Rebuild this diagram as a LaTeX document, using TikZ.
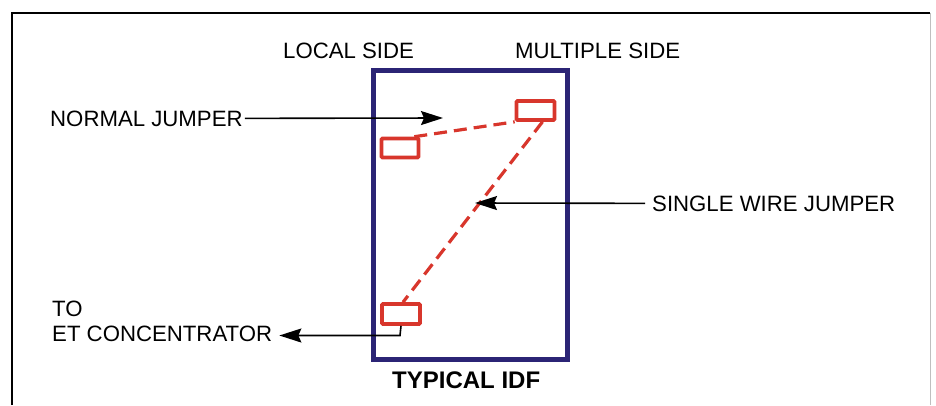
\documentclass[tikz,border=0pt]{standalone}
\usepackage{fontspec}
\setmainfont{Liberation Sans}
\usetikzlibrary{arrows.meta}
\definecolor{idfblue}{HTML}{2B2475}
\definecolor{jred}{HTML}{D8362C}
\tikzset{
  lbl/.style={inner sep=0pt, anchor=base west, font=\fontsize{22.2}{25}\selectfont},
  ttl/.style={inner sep=0pt, anchor=base west, font=\fontsize{24}{28}\selectfont\bfseries},
  block/.style={draw=jred, line width=3.6pt, rounded corners=1pt, inner sep=0pt},
  jumper/.style={draw=jred, line width=3.2pt, dash pattern=on 13pt off 7pt},
  pointer/.style={draw=black, line width=1.6pt, -{Stealth[length=22pt,width=14pt,inset=3pt]}},
}
\begin{document}
\begin{tikzpicture}[x=1pt,y=-1pt]
\useasboundingbox (0,0) rectangle (936,405);
% outer frame
\draw[line width=2.6pt, black] (12,405) -- (12,13) -- (930,13);
\draw[line width=0.6pt, black!25] (930,13) -- (930,405);
% IDF frame
\node[draw=idfblue, line width=5pt, minimum width=194pt, minimum height=289pt, inner sep=0pt] (idf) at (470,214.5) {};
% red blocks
\node[block, minimum width=38pt, minimum height=19pt] (mult) at (535.5,110.5) {};
\node[block, minimum width=37pt, minimum height=19pt] (loc) at (400,148) {};
\node[block, minimum width=38pt, minimum height=20pt] (et) at (401,314) {};
% jumpers
\draw[jumper] (loc.north east) ++(-6pt,0) -- (mult.south west);
\draw[jumper] (mult.south) ++(7pt,0) -- ([xshift=2pt]et.north);
% labels
\node[lbl] (ls) at (283,58) {LOCAL SIDE};
\node[lbl] (ms) at (515,58) {MULTIPLE SIDE};
\node[lbl] (nj) at (50,126) {NORMAL JUMPER};
\node[lbl] (sw) at (652,211) {SINGLE WIRE JUMPER};
\node[lbl] (to) at (52,316) {TO};
\node[lbl] (etc) at (52,341) {ET CONCENTRATOR};
\node[ttl] (ti) at (392,388) {TYPICAL IDF};
% pointers
\coordinate (njtip) at (443,118);
\coordinate (swtip) at (475,203);
\coordinate (etbend) at (400,335.5);
\draw[pointer] ([xshift=2pt]nj.east) -- (njtip);
\draw[pointer] ([xshift=-7pt]sw.west) -- (swtip);
\draw[pointer] (et.south) -- (etbend) -- ([xshift=7pt]etbend -| etc.east);
\end{tikzpicture}
\end{document}
